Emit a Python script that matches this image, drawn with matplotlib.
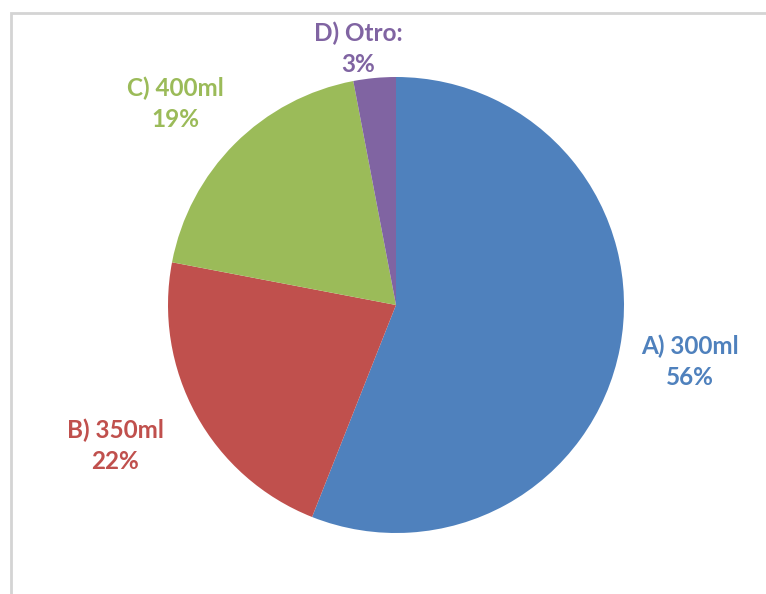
import matplotlib
matplotlib.use('Agg')
import matplotlib.pyplot as plt
from matplotlib.patches import Rectangle

# respuestas de la encuesta: tamaño preferido de vaso
labels = ["A) 300ml", "B) 350ml", "C) 400ml", "D) Otro:"]
values = [56, 22, 19, 3]
colors = ["#4F81BD", "#C0504D", "#9BBB59", "#8064A2"]

W, H = 766, 594
fig = plt.figure(figsize=(W / 100, H / 100), dpi=100)
ax = fig.add_axes([0, 0, 1, 1])

# marco gris del area del grafico
ax.add_patch(Rectangle((11, -10), W + 20, H - 13 + 10, fill=False,
                       edgecolor="#d4d4d4", linewidth=2))

cx, cy, r = 396, H - 305, 228
ax.pie(values, colors=colors, startangle=90, counterclock=False,
       center=(cx, cy), radius=r, frame=True,
       wedgeprops=dict(linewidth=0))
ax.set_xlim(0, W)
ax.set_ylim(0, H)
ax.set_aspect('equal')
ax.axis('off')

# posiciones de las etiquetas en pixeles (x, y desde arriba)
label_pos = [(690, 362), (115, 446), (175, 104), (358, 49)]
for lab, v, c, (x, y) in zip(labels, values, colors, label_pos):
    ax.text(x, H - y, "%s\n%d%%" % (lab, v), color=c, ha='center', va='center',
            fontsize=17.5, fontweight='bold', family=['Lato', 'DejaVu Sans'],
            linespacing=1.4)

fig.savefig("out.png", dpi=100)
